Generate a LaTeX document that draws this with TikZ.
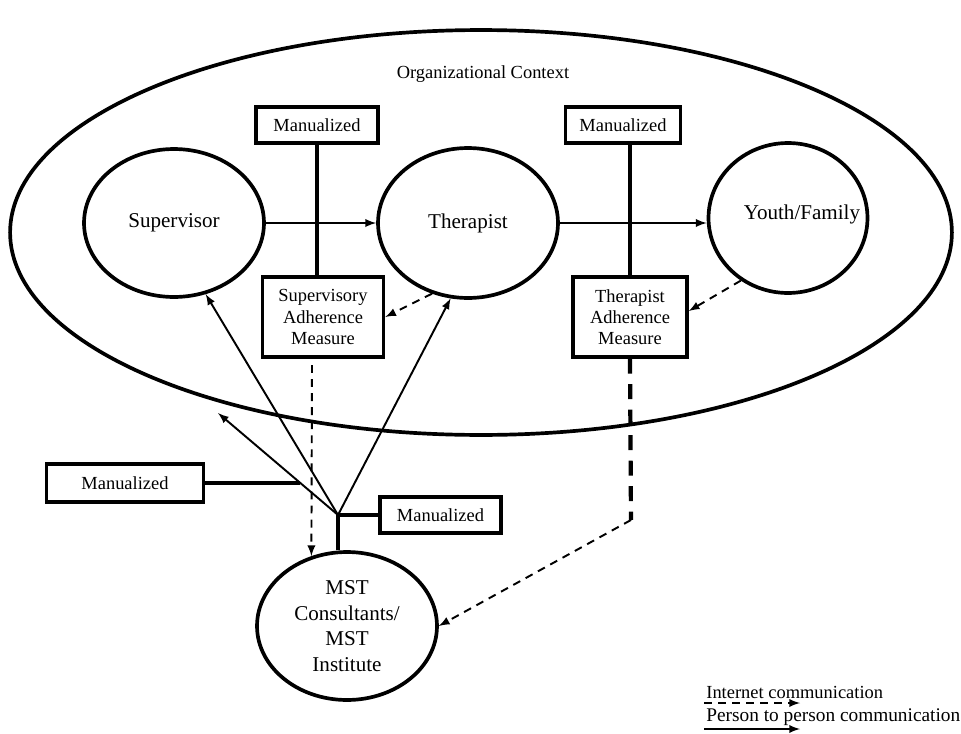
\documentclass[tikz,border=0pt]{standalone}
\usepackage{fontspec}
\setmainfont{Liberation Serif}
\usepackage{tikz}
\usetikzlibrary{shapes.geometric}
\usetikzlibrary{arrows}

\tikzset{
  role/.style={draw, ellipse, line width=2.1pt, inner sep=0pt, align=center, font=\fontsize{12}{14.5}\selectfont},
  manbox/.style={draw, rectangle, line width=2pt, inner sep=0pt, align=center, font=\fontsize{10.5}{12}\selectfont},
  lbl/.style={inner sep=0pt, font=\fontsize{10.5}{12}\selectfont},
  link/.style={line width=2pt},
  person/.style={->, >=latex, line width=1.1pt},
  inet/.style={->, >=latex, line width=1.1pt, dash pattern=on 4.5pt off 3.5pt},
  inetthick/.style={line width=2.4pt, dash pattern=on 8.5pt off 6pt},
}

\begin{document}
\begin{tikzpicture}[x=0.02cm, y=-0.02cm]
	% Paths, nodes and links:
	\useasboundingbox (0,0) rectangle (961,734);
	\node[role, minimum width=18.84cm, minimum height=8.1cm] (org) at (481,232.5){};
	\node[lbl] (orgtxt) at (483,74){Organizational Context};
	\node[role, minimum width=3.6cm, minimum height=2.96cm] (sup) at (174,223){Supervisor};
	\node[role, minimum width=3.6cm, minimum height=3cm] (ther) at (468,223){Therapist};
	\node[role, minimum width=3.18cm, minimum height=3cm] (yf) at (788,218){};
	\node[lbl, font=\fontsize{12}{14.5}\selectfont] (yftxt) at (802,214){Youth/Family};
	\node[role, minimum width=3.6cm, minimum height=2.96cm] (mst) at (347,626){MST\\Consultants/\\MST\\Institute};
	\node[manbox, minimum width=2.44cm, minimum height=0.72cm] (man1) at (317,125){Manualized};
	\node[manbox, minimum width=2.3cm, minimum height=0.72cm] (man2) at (623,125){Manualized};
	\node[manbox, minimum width=2.42cm, minimum height=1.6cm] (sam) at (323,317){Supervisory\\Adherence\\Measure};
	\node[manbox, minimum width=2.28cm, minimum height=1.6cm] (tam) at (630,317){Therapist\\Adherence\\Measure};
	\node[manbox, minimum width=2.42cm, minimum height=0.72cm] (man3) at (440.5,515){Manualized};
	\node[manbox, minimum width=3.14cm, minimum height=0.76cm] (man4) at (125,483){Manualized};
	\coordinate (hub) at (338,515);
	\coordinate (ctxtip) at (218,413);
	\coordinate (man4end) at (300,483);
	\coordinate (samdown) at (312,365);
	\coordinate (tambend) at (631,520);
	% links between the roles
	\draw[person] (sup) -- (ther);
	\draw[person] (ther.east) -- (ther.east -| yf.west);
	\draw[link] (man1.south) -- (man1.south |- sam.north);
	\draw[link] (tam.north |- man2.south) -- (tam.north);
	\draw[inet] (ther.243) -- (sam.east);
	\draw[inet] (yf.233) -- ([yshift=3.4pt]tam.east);
	\draw[inet] (samdown) -- (mst.117);
	\draw[inetthick] (tam.south) -- (tambend);
	\draw[inet] (tambend) -- (mst.east);
	\draw[link] (hub) -- (hub |- mst.north);
	\draw[link] (hub) -- (man3.west);
	\draw[person] (hub) -- (sup.294);
	\draw[person] (hub) -- (ther.257);
	\draw[person] (hub) -- (ctxtip);
	\draw[link] (man4.east) -- (man4end);
	% legend
	\node[lbl, anchor=west] (legin) at (706,692){Internet communication};
	\node[lbl, anchor=west, font=\fontsize{11}{12}\selectfont] (legpp) at (706,717){Person to person communication};
	\coordinate (inA) at (704,703);
	\coordinate (inB) at (800,703);
	\coordinate (ppA) at (704,729);
	\coordinate (ppB) at (800,729);
	\draw[inet] (inA) -- (inB);
	\draw[person] (ppA) -- (ppB);
\end{tikzpicture}
\end{document}
